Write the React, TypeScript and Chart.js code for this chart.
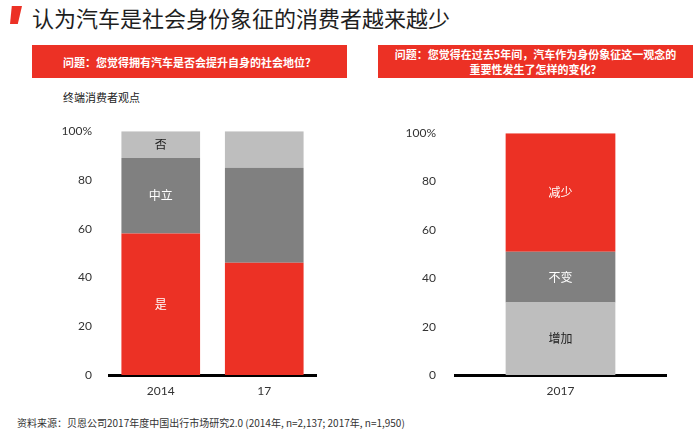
import React, { useEffect, useRef } from "react";
import { Chart, registerables } from "chart.js";

Chart.register(...registerables);

const RED = "#EC3125";
const DARK = "#808080";
const LIGHT = "#BEBEBE";

// Left chart data
const leftCategories = ["2014", "17"];
const leftYes = [58, 46];
const leftNeutral = [31, 39];
const leftNo = [11, 15];
const leftYesLabels = ["是", ""];
const leftNeutralLabels = ["中立", ""];
const leftNoLabels = ["否", ""];

// Right chart data
const rightCategories = ["2017"];
const rightIncrease = [30];
const rightSame = [21];
const rightDecrease = [49];
const rightIncreaseLabels = ["增加"];
const rightSameLabels = ["不变"];
const rightDecreaseLabels = ["减少"];

const yTicks = [0, 20, 40, 60, 80, 100];

const segLabelPlugin = {
  id: "segLabels",
  afterDatasetsDraw(chart: any) {
    const ctx = chart.ctx;
    chart.data.datasets.forEach((ds: any, di: number) => {
      const meta = chart.getDatasetMeta(di);
      meta.data.forEach((el: any, i: number) => {
        const txt = ds.segLabels ? ds.segLabels[i] : "";
        if (!txt) return;
        const cy = (el.y + el.base) / 2;
        ctx.save();
        ctx.fillStyle = ds.labelColor || "#fff";
        ctx.font = '12px "Noto Sans CJK SC", sans-serif';
        ctx.textAlign = "center";
        ctx.textBaseline = "middle";
        ctx.fillText(txt, el.x, cy);
        ctx.restore();
      });
    });
  },
};

function makeOptions(yWidth: number, tickPad: number, rightPad: number, barPct: number) {
  return {
    responsive: false,
    animation: false as const,
    layout: { padding: { top: 0, right: rightPad, bottom: 0, left: 0 } },
    plugins: { legend: { display: false }, tooltip: { enabled: false } },
    datasets: { bar: { barPercentage: barPct, categoryPercentage: 1 } },
    scales: {
      x: {
        stacked: true,
        grid: { display: false, drawTicks: false },
        border: { display: true, color: "#000", width: 3 },
        ticks: {
          color: "#333",
          padding: 9,
          font: { family: 'Lato, "Noto Sans CJK SC", sans-serif', size: 12 },
        },
        afterFit(scale: any) {
          scale.height = 35;
        },
      },
      y: {
        stacked: true,
        min: 0,
        max: 100,
        grid: { display: false, drawTicks: false },
        border: { display: false },
        afterBuildTicks(scale: any) {
          scale.ticks = yTicks.map((v) => ({ value: v }));
        },
        ticks: {
          color: "#333",
          padding: tickPad,
          font: { family: 'Lato, "Noto Sans CJK SC", sans-serif', size: 12 },
          callback: (v: any) => (v === 100 ? "100%" : String(v)),
        },
        afterFit(scale: any) {
          scale.width = yWidth;
        },
      },
    },
  } as any;
}

export default function App() {
  const leftRef = useRef<HTMLCanvasElement>(null);
  const rightRef = useRef<HTMLCanvasElement>(null);

  useEffect(() => {
    const left = new Chart(leftRef.current!, {
      type: "bar",
      data: {
        labels: leftCategories,
        datasets: [
          { label: "是", data: leftYes, backgroundColor: RED, segLabels: leftYesLabels, labelColor: "#fff" } as any,
          { label: "中立", data: leftNeutral, backgroundColor: DARK, segLabels: leftNeutralLabels, labelColor: "#fff" } as any,
          { label: "否", data: leftNo, backgroundColor: LIGHT, segLabels: leftNoLabels, labelColor: "#222" } as any,
        ],
      },
      options: makeOptions(69, 17, 14, 0.76),
      plugins: [segLabelPlugin],
    });
    const right = new Chart(rightRef.current!, {
      type: "bar",
      data: {
        labels: rightCategories,
        datasets: [
          { label: "增加", data: rightIncrease, backgroundColor: LIGHT, segLabels: rightIncreaseLabels, labelColor: "#222" } as any,
          { label: "不变", data: rightSame, backgroundColor: DARK, segLabels: rightSameLabels, labelColor: "#fff" } as any,
          { label: "减少", data: rightDecrease, backgroundColor: RED, segLabels: rightDecreaseLabels, labelColor: "#fff" } as any,
        ],
      },
      options: makeOptions(75, 19, 14, 0.52),
      plugins: [segLabelPlugin],
    });
    return () => {
      left.destroy();
      right.destroy();
    };
  }, []);

  const cjk = '"Noto Sans CJK SC", sans-serif';

  return (
    <div
      style={{
        position: "absolute",
        left: 0,
        top: 0,
        width: 700,
        height: 432,
        background: "#fff",
        overflow: "hidden",
        fontFamily: cjk,
      }}
    >
      <div
        style={{
          position: "absolute",
          left: 10,
          top: 6,
          width: 12,
          height: 18,
          background: RED,
          clipPath: "polygon(15% 0, 100% 0, 65% 100%, 0 100%)",
        }}
      />
      <div
        style={{
          position: "absolute",
          left: 32,
          top: 4,
          fontSize: 22,
          lineHeight: "26px",
          color: "#1e1e1e",
          whiteSpace: "nowrap",
        }}
      >
        认为汽车是社会身份象征的消费者越来越少
      </div>
      <div
        style={{
          position: "absolute",
          left: 32,
          top: 45,
          width: 315,
          height: 33,
          background: RED,
          color: "#fff",
          fontSize: 11,
          fontWeight: 700,
          display: "flex",
          alignItems: "center",
          justifyContent: "center",
          textAlign: "center",
        }}
      >
        问题：您觉得拥有汽车是否会提升自身的社会地位？
      </div>
      <div
        style={{
          position: "absolute",
          left: 378,
          top: 45,
          width: 315,
          height: 33,
          background: RED,
          color: "#fff",
          fontSize: 11,
          fontWeight: 700,
          lineHeight: "15px",
          display: "flex",
          flexDirection: "column",
          alignItems: "center",
          justifyContent: "center",
          textAlign: "center",
        }}
      >
        <div>问题：您觉得在过去5年间，汽车作为身份象征这一观念的</div>
        <div>重要性发生了怎样的变化？</div>
      </div>
      <div
        style={{
          position: "absolute",
          left: 63,
          top: 89,
          fontSize: 11,
          lineHeight: "16px",
          color: "#222",
          whiteSpace: "nowrap",
        }}
      >
        终端消费者观点
      </div>
      <canvas
        ref={leftRef}
        width={290}
        height={303}
        style={{ position: "absolute", left: 40, top: 107, width: 290, height: 303 }}
      />
      <canvas
        ref={rightRef}
        width={300}
        height={303}
        style={{ position: "absolute", left: 380, top: 107, width: 300, height: 303 }}
      />
      <div
        style={{
          position: "absolute",
          left: 17,
          top: 415,
          fontSize: 10,
          lineHeight: "16px",
          color: "#333",
          whiteSpace: "nowrap",
        }}
      >
        资料来源：贝恩公司2017年度中国出行市场研究2.0 (2014年, n=2,137; 2017年, n=1,950)
      </div>
    </div>
  );
}
